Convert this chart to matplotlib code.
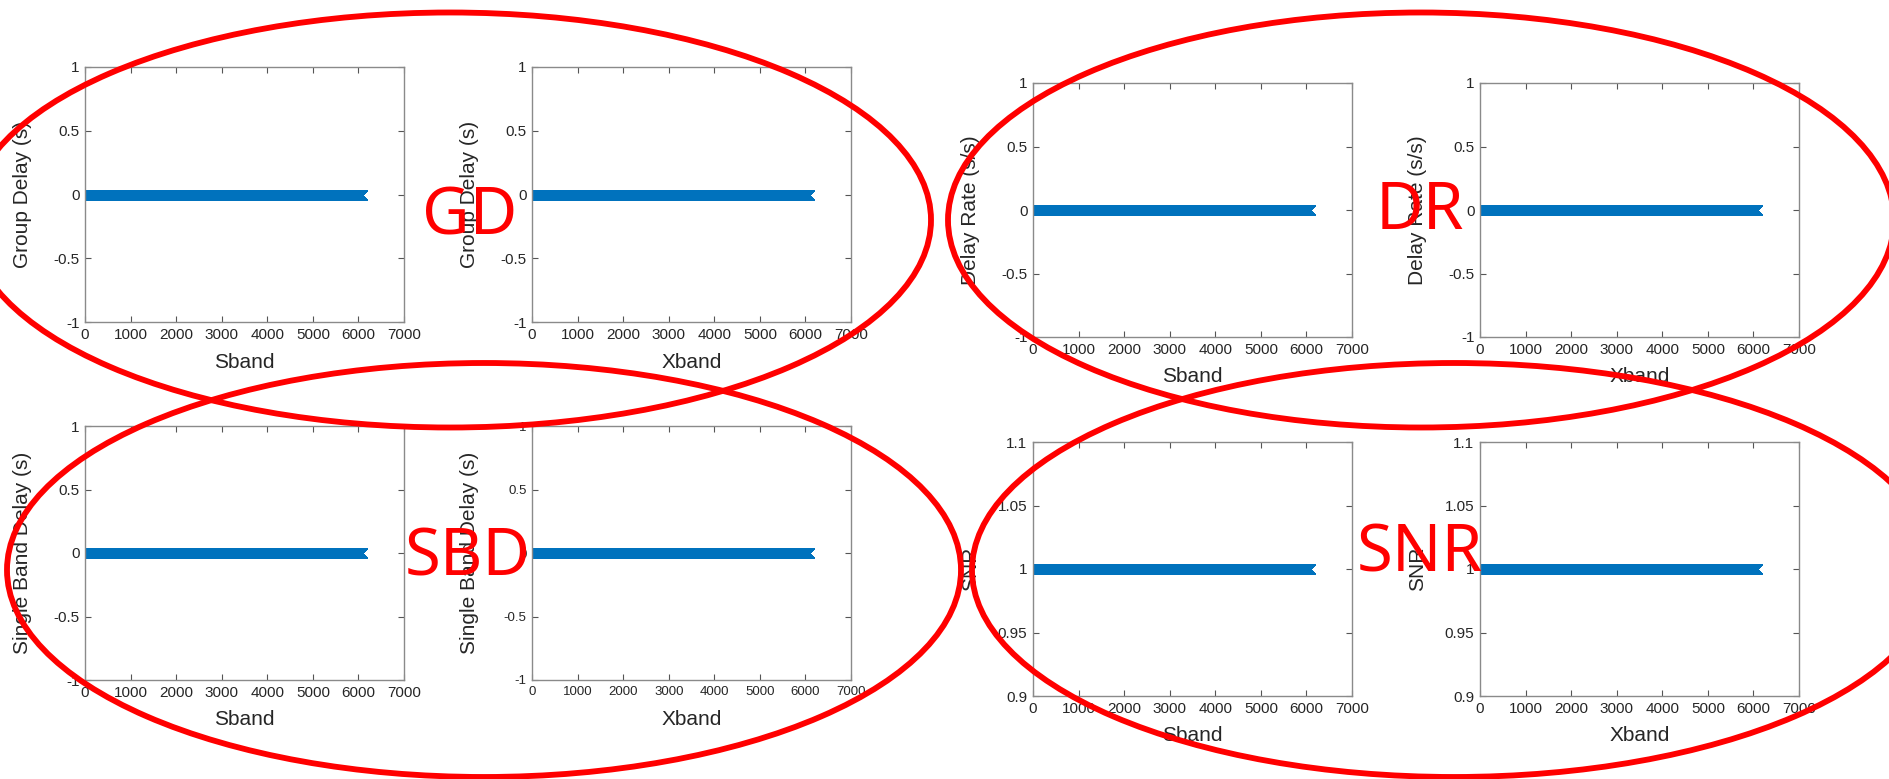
#!/usr/bin/env python3
"""Eight constant-value fringe panels (GD / DR / SBD / SNR, S and X band) with red callouts."""

import numpy as np
import matplotlib

matplotlib.use("Agg")
import matplotlib.pyplot as plt
from matplotlib.patches import Ellipse
from matplotlib.ticker import FuncFormatter

# ---- data ----
n_obs = 6080
obs_index = np.arange(1, n_obs + 1)
gd_sband = np.zeros(n_obs)
gd_xband = np.zeros(n_obs)
dr_sband = np.zeros(n_obs)
dr_xband = np.zeros(n_obs)
sbd_sband = np.zeros(n_obs)
sbd_xband = np.zeros(n_obs)
snr_sband = np.ones(n_obs)
snr_xband = np.ones(n_obs)

band_names = ["Sband", "Xband"]
y_labels = ["Group Delay (s)", "Delay Rate (s/s)", "Single Band Delay (s)", "SNR"]
delay_ticks = [-1, -0.5, 0, 0.5, 1]
snr_ticks = [0.9, 0.95, 1, 1.05, 1.1]
x_ticks = [0, 1000, 2000, 3000, 4000, 5000, 6000, 7000]
group_names = ["GD", "DR", "SBD", "SNR"]

W, H = 1890, 779

plt.rcParams["font.family"] = ["Liberation Sans", "DejaVu Sans"]

# panel boxes in pixels: left, top, right, bottom
panels = [
    (gd_sband, 0, 0, (85, 67, 404, 322), 11),
    (gd_xband, 0, 1, (532, 67, 851, 322), 11),
    (dr_sband, 1, 0, (1033, 83, 1352, 337), 11),
    (dr_xband, 1, 1, (1480, 83, 1799, 337), 11),
    (sbd_sband, 2, 0, (85, 426, 404, 680), 11),
    (sbd_xband, 2, 1, (532, 426, 851, 680), 9.5),
    (snr_sband, 3, 0, (1033, 442, 1352, 696), 11),
    (snr_xband, 3, 1, (1480, 442, 1799, 696), 11),
]

# callout ellipses (centre x, centre y, width, height) and label baselines, in pixels
ellipses = [(450, 220, 962, 415), (1421, 220, 946, 415), (484, 570, 954, 414), (1454, 570, 964, 414)]
label_pos = [(470, 234), (1420, 229), (468, 576), (1420, 571)]

TEXT = "#262626"
SPINE = "#8a8a8a"
BLUE = "#0072BD"

fig = plt.figure(figsize=(W / 100, H / 100), dpi=100)
fig.patch.set_facecolor("white")

fmt = FuncFormatter(lambda v, _: f"{v:g}")

for values, group, band, (l, t, r, b), tick_size in panels:
    ax = fig.add_axes([l / W, 1 - b / H, (r - l) / W, (b - t) / H])
    ax.plot(obs_index, values, color=BLUE, marker="x", markersize=7, markeredgewidth=1.0, linewidth=1.5)
    ax.set_xlim(0, 7000)
    ax.set_xticks(x_ticks)
    if group == 3:
        ax.set_ylim(0.9, 1.1)
        ax.set_yticks(snr_ticks)
    else:
        ax.set_ylim(-1, 1)
        ax.set_yticks(delay_ticks)
    ax.xaxis.set_major_formatter(fmt)
    ax.yaxis.set_major_formatter(fmt)
    ax.tick_params(direction="in", length=4, width=0.8, top=True, right=True,
                   colors="#555555", labelcolor=TEXT, labelsize=tick_size, pad=4)
    for spine in ax.spines.values():
        spine.set_color(SPINE)
        spine.set_linewidth(1.0)
    ax.set_xlabel(band_names[band], fontsize=15, color=TEXT)
    ax.set_ylabel(y_labels[group], fontsize=15, color=TEXT)
    ax.xaxis.set_label_coords(0.5, -0.12)
    ax.yaxis.set_label_coords(-0.165, 0.5)

overlay = fig.add_axes([0, 0, 1, 1], zorder=10)
overlay.set_xlim(0, W)
overlay.set_ylim(H, 0)
overlay.axis("off")
overlay.patch.set_alpha(0)

for (cx, cy, ew, eh), name, (tx, ty) in zip(ellipses, group_names, label_pos):
    overlay.add_patch(Ellipse((cx, cy), ew, eh, fill=False, edgecolor="#ff0000", linewidth=4.2))
    overlay.text(tx, ty, name, color="#ff0000", fontsize=47, family="Noto Sans",
                 ha="center", va="baseline")

fig.savefig("out.png", dpi=100)
